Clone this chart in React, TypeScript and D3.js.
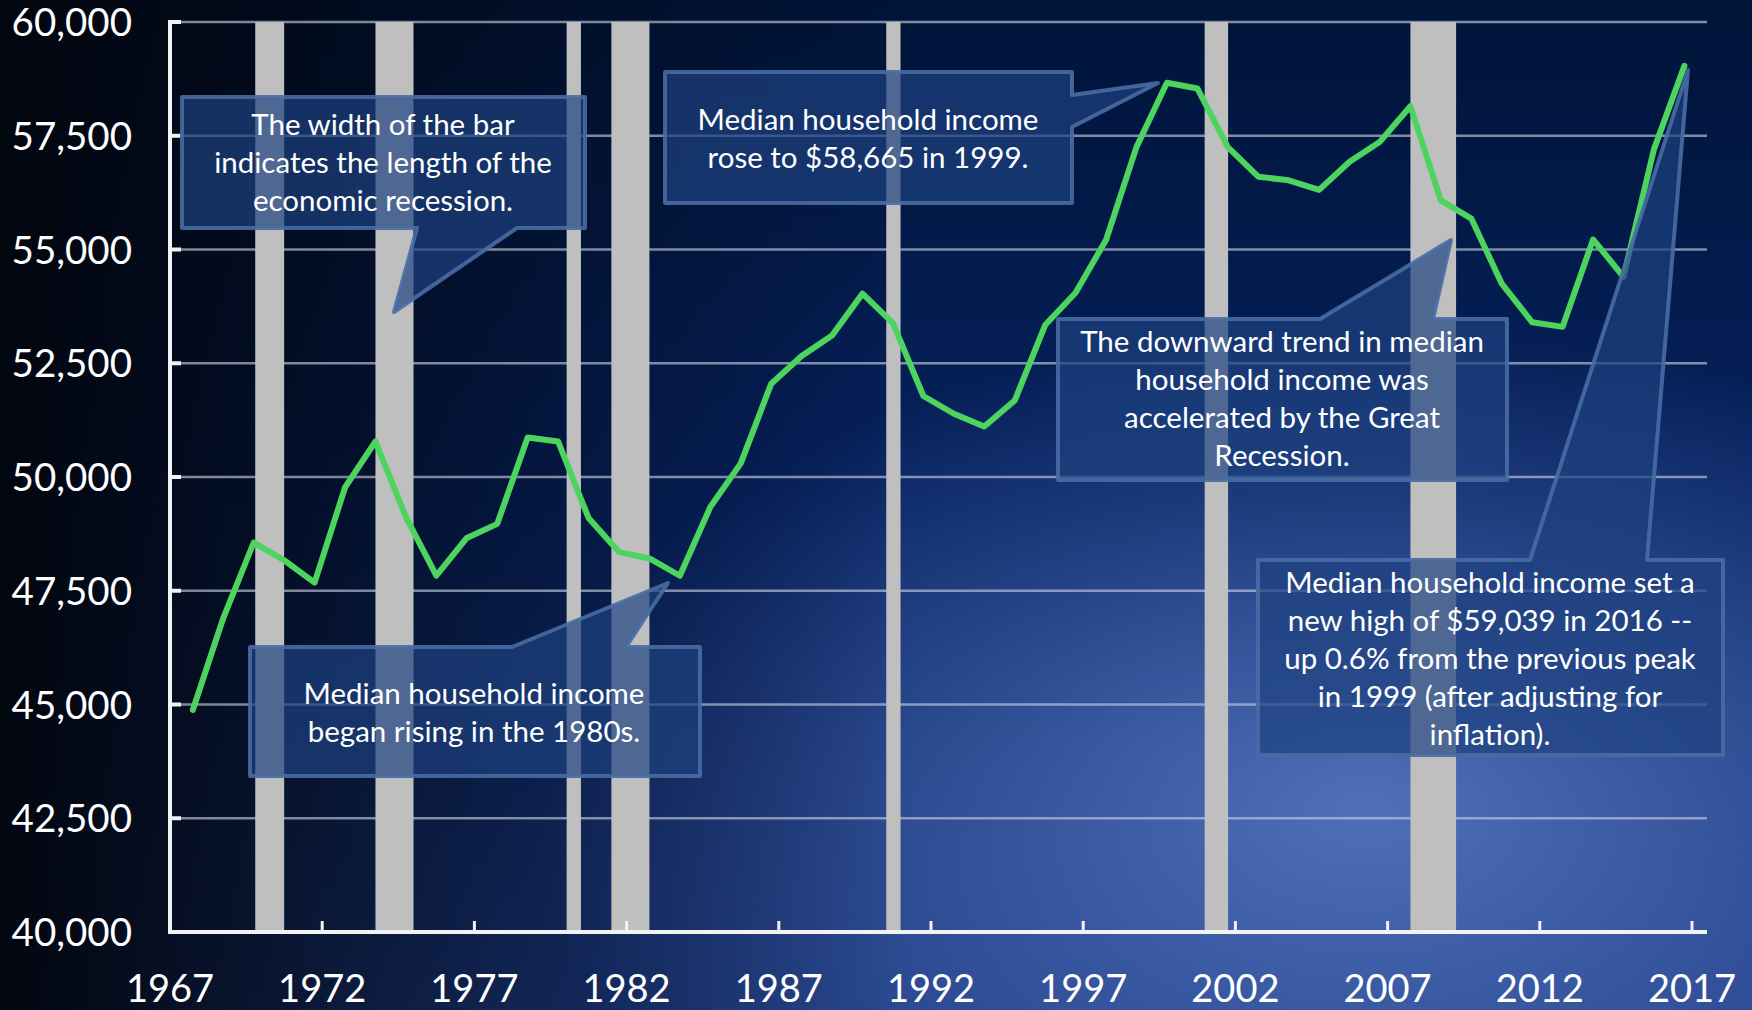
import React from "react";
import * as d3 from "d3";

const years = [
  1967, 1968, 1969, 1970, 1971, 1972, 1973, 1974, 1975, 1976,
  1977, 1978, 1979, 1980, 1981, 1982, 1983, 1984, 1985, 1986,
  1987, 1988, 1989, 1990, 1991, 1992, 1993, 1994, 1995, 1996,
  1997, 1998, 1999, 2000, 2001, 2002, 2003, 2004, 2005, 2006,
  2007, 2008, 2009, 2010, 2011, 2012, 2013, 2014, 2015, 2016,
];

const medianIncome = [
  44880, 46900, 48560, 48170, 47680, 49770, 50780, 49120, 47830, 48660,
  48970, 50870, 50780, 49100, 48350, 48210, 47830, 49340, 50300, 52050,
  52660, 53110, 54030, 53380, 51780, 51390, 51110, 51680, 53340, 54050,
  55210, 57250, 58665, 58540, 57250, 56600, 56520, 56310, 56930, 57370,
  58150, 56080, 55680, 54250, 53400, 53300, 55220, 54400, 57200, 59039,
];

const recessionStarts = [1969.8, 1973.75, 1980.03, 1981.5, 1990.53, 2000.99, 2007.75];
const recessionEnds = [1970.75, 1975.0, 1980.5, 1982.75, 1991.0, 2001.76, 2009.25];

const xTickYears = [1967, 1972, 1977, 1982, 1987, 1992, 1997, 2002, 2007, 2012, 2017];
const yTickValues = [40000, 42500, 45000, 47500, 50000, 52500, 55000, 57500, 60000];

// annotation layout (pixel geometry of the callouts)
type Callout = {
  lines: string[];
  rect: [number, number, number, number]; // x0,y0,x1,y1
  pointer: [number, number][]; // base1, tip, base2
  side: "top" | "bottom" | "right";
  cx: number;
  firstLineY: number;
};

const callouts: Callout[] = [
  {
    lines: ["The width of the bar", "indicates the length of the", "economic recession."],
    rect: [182, 97, 585, 228],
    pointer: [[417, 228], [394, 312], [517, 228]],
    side: "bottom",
    cx: 383,
    firstLineY: 125,
  },
  {
    lines: ["Median household income", "rose to $58,665 in 1999."],
    rect: [665, 72, 1072, 203],
    pointer: [[1072, 95], [1158, 83], [1072, 127]],
    side: "right",
    cx: 868,
    firstLineY: 120,
  },
  {
    lines: ["Median household income", "began rising in the 1980s."],
    rect: [250, 647, 700, 776],
    pointer: [[512, 647], [668, 583], [626, 647]],
    side: "top",
    cx: 474,
    firstLineY: 694,
  },
  {
    lines: ["The downward trend in median", "household income was", "accelerated by the Great", "Recession."],
    rect: [1058, 319, 1507, 480],
    pointer: [[1320, 319], [1451, 240], [1433, 319]],
    side: "top",
    cx: 1282,
    firstLineY: 342,
  },
  {
    lines: [
      "Median household income set a",
      "new high of $59,039 in 2016 --",
      "up 0.6% from the previous peak",
      "in 1999 (after adjusting for",
      "inflation).",
    ],
    rect: [1258, 560, 1723, 755],
    pointer: [[1530, 560], [1688, 70], [1647, 560]],
    side: "top",
    cx: 1490,
    firstLineY: 583,
  },
];

const W = 1752;
const H = 1010;
const FONT = "Lato, 'Open Sans', 'DejaVu Sans', sans-serif";

function calloutPath(c: Callout): string {
  const [x0, y0, x1, y1] = c.rect;
  const [b1, tip, b2] = c.pointer;
  const p = d3.path();
  if (c.side === "top") {
    p.moveTo(x0, y0);
    p.lineTo(b1[0], y0);
    p.lineTo(tip[0], tip[1]);
    p.lineTo(b2[0], y0);
    p.lineTo(x1, y0);
    p.lineTo(x1, y1);
    p.lineTo(x0, y1);
    p.closePath();
  } else if (c.side === "bottom") {
    p.moveTo(x0, y0);
    p.lineTo(x1, y0);
    p.lineTo(x1, y1);
    p.lineTo(b2[0], y1);
    p.lineTo(tip[0], tip[1]);
    p.lineTo(b1[0], y1);
    p.lineTo(x0, y1);
    p.closePath();
  } else {
    p.moveTo(x0, y0);
    p.lineTo(x1, y0);
    p.lineTo(x1, b1[1]);
    p.lineTo(tip[0], tip[1]);
    p.lineTo(x1, b2[1]);
    p.lineTo(x1, y1);
    p.lineTo(x0, y1);
    p.closePath();
  }
  return p.toString();
}

export default function App() {
  const plotLeft = 170;
  const plotRight = 1707;
  const x = d3.scaleLinear().domain([1967, 2017]).range([170, 1692]);
  const y = d3.scaleLinear().domain([40000, 60000]).range([932, 22]);
  const pointOffset = 0.75;

  const line = d3
    .line<number>()
    .x((_, i) => x(years[i] + pointOffset))
    .y((d) => y(d));

  const fmt = d3.format(",");
  const lineH = 38;

  return (
    <svg
      width={W}
      height={H}
      style={{ position: "absolute", left: 0, top: 0, display: "block" }}
      fontFamily={FONT}
    >
      <defs>
        <linearGradient id="bgV" x1="0" y1="0" x2="0" y2="1">
          <stop offset="0" stopColor="#001438" />
          <stop offset="0.5" stopColor="#062260" />
          <stop offset="1" stopColor="#1c3a82" />
        </linearGradient>
        <radialGradient id="bgR" cx="0.78" cy="0.8" r="0.48">
          <stop offset="0" stopColor="#5e7fcb" stopOpacity="0.8" />
          <stop offset="0.6" stopColor="#5e7fcb" stopOpacity="0.3" />
          <stop offset="1" stopColor="#5e7fcb" stopOpacity="0" />
        </radialGradient>
        <linearGradient id="bgL" x1="0" y1="0" x2="1" y2="0">
          <stop offset="0" stopColor="#02060f" stopOpacity="1" />
          <stop offset="0.08" stopColor="#02060f" stopOpacity="0.85" />
          <stop offset="0.28" stopColor="#02060f" stopOpacity="0.45" />
          <stop offset="0.52" stopColor="#02060f" stopOpacity="0" />
        </linearGradient>
      </defs>
      <rect x={0} y={0} width={W} height={H} fill="url(#bgV)" />
      <rect x={0} y={0} width={W} height={H} fill="url(#bgR)" />
      <rect x={0} y={0} width={W} height={H} fill="url(#bgL)" />

      {/* gridlines */}
      {yTickValues.map((v) => (
        <line
          key={"g" + v}
          x1={plotLeft}
          x2={plotRight}
          y1={y(v)}
          y2={y(v)}
          stroke="#c3cadb"
          strokeOpacity={0.65}
          strokeWidth={2.5}
        />
      ))}

      {/* recession bars */}
      {recessionStarts.map((s, i) => (
        <rect
          key={"r" + i}
          x={x(s)}
          y={y(60000)}
          width={x(recessionEnds[i]) - x(s)}
          height={y(40000) - y(60000)}
          fill="#bfbfbf"
        />
      ))}

      {/* axes */}
      <line x1={plotLeft} x2={plotLeft} y1={y(60000) - 2} y2={y(40000) + 2} stroke="#f2f2f2" strokeWidth={4} />
      <line x1={plotLeft - 2} x2={plotRight} y1={y(40000)} y2={y(40000)} stroke="#f2f2f2" strokeWidth={4} />
      {yTickValues.map((v) => (
        <line key={"yt" + v} x1={plotLeft} x2={plotLeft + 11} y1={y(v)} y2={y(v)} stroke="#f2f2f2" strokeWidth={4} />
      ))}
      {xTickYears.slice(1).map((t) => (
        <line key={"xt" + t} x1={x(t)} x2={x(t)} y1={y(40000)} y2={y(40000) - 11} stroke="#f2f2f2" strokeWidth={3} />
      ))}

      {/* income line */}
      <path
        d={line(medianIncome) || ""}
        fill="none"
        stroke="#4cd45f"
        strokeWidth={6}
        strokeLinejoin="round"
        strokeLinecap="round"
      />

      {/* callouts */}
      {callouts.map((c, i) => (
        <g key={"c" + i}>
          <path
            d={calloutPath(c)}
            fill="rgb(30,66,128)"
            fillOpacity={0.7}
            stroke="rgb(72,108,163)"
            strokeOpacity={0.9}
            strokeWidth={4}
            strokeLinejoin="round"
          />
          {c.lines.map((t, j) => (
            <text
              key={j}
              x={c.cx}
              y={c.firstLineY + j * lineH}
              dy="0.35em"
              textAnchor="middle"
              fill="#ffffff"
              fontSize={29.5}
            >
              {t}
            </text>
          ))}
        </g>
      ))}

      {/* y labels */}
      {yTickValues.map((v) => (
        <text key={"yl" + v} x={132} y={y(v) + 14} textAnchor="end" fill="#ffffff" fontSize={38.5}>
          {fmt(v)}
        </text>
      ))}
      {/* x labels */}
      {xTickYears.map((t) => (
        <text key={"xl" + t} x={x(t)} y={1002} textAnchor="middle" fill="#ffffff" fontSize={38}>
          {t}
        </text>
      ))}
    </svg>
  );
}
